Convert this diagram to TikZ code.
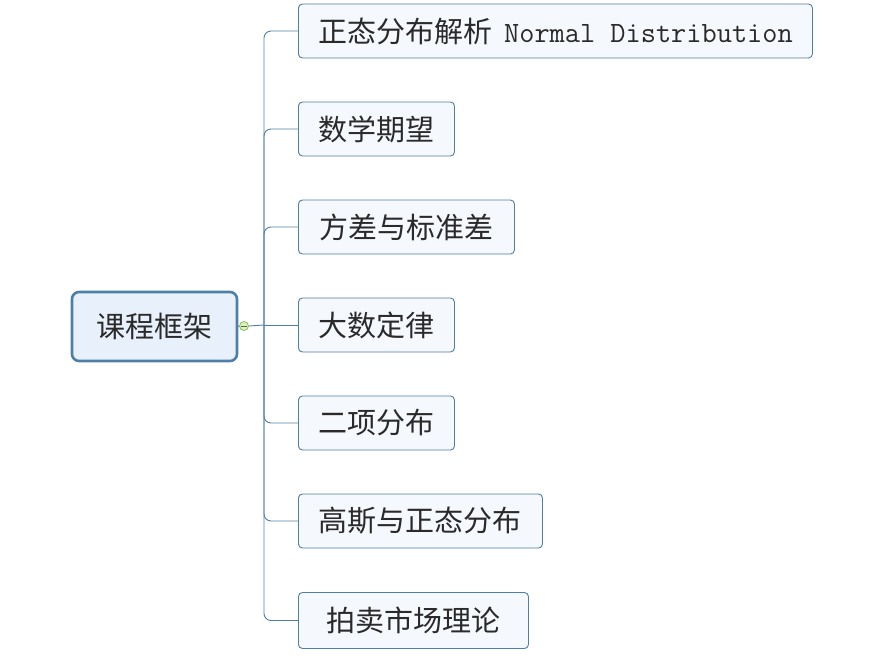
\documentclass[tikz,border=0pt]{standalone}
\usepackage{fontspec}
\newfontfamily\cjk{Noto Sans CJK SC}
\usepackage{tikz}
\usetikzlibrary{positioning}
\definecolor{edgeblue}{HTML}{4E7FA6}
\definecolor{rootfill}{HTML}{E8F1FB}
\definecolor{leaffill}{HTML}{F5F8FC}
\definecolor{foldgreen}{HTML}{8DBB5A}
\definecolor{foldfill}{HTML}{DCEFC0}
\definecolor{inkgrey}{HTML}{2A2A2A}
\begin{document}
\begin{tikzpicture}[x=1pt,y=-1pt,
    rootbox/.style={draw=edgeblue,line width=2.6pt,fill=rootfill,rounded corners=7pt,
      minimum width=165pt,minimum height=69pt,font=\fontsize{29}{31}\selectfont\cjk,text=inkgrey},
    leafbox/.style={draw=edgeblue,line width=0.9pt,fill=leaffill,rounded corners=4pt,
      minimum height=54pt,anchor=west,font=\fontsize{29}{31}\selectfont\cjk,text=inkgrey},
    branch/.style={draw=edgeblue,line width=0.9pt,rounded corners=7pt}]%
    \useasboundingbox (0,0) rectangle (882,655);
    \node[rootbox] (root) at (154.5,326.5) {课程框架}; %%
    \node[draw=foldgreen,fill=foldfill,circle,line width=0.8pt,inner sep=0pt,minimum size=9pt] (fold) at (244,326) {}; %%
    \draw[foldgreen!60!black,line width=0.8pt] (fold.west)++(1.5,0) -- ++(6,0);
    \coordinate (hub) at (264,325);
    %% branches
    \node[leafbox,minimum width=514pt] (c1) at (298,31) {正态分布解析\hspace{12pt}{\ttfamily\fontsize{29.5}{31}\selectfont Normal Distribution}}; %%
    \node[leafbox,minimum width=156pt] (c2) at (298,129) {数学期望}; %%
    \node[leafbox,minimum width=216pt] (c3) at (298,227) {方差与标准差}; %%
    \node[leafbox,minimum width=156pt] (c4) at (298,325) {大数定律}; %%
    \node[leafbox,minimum width=156pt] (c5) at (298,423) {二项分布}; %%
    \node[leafbox,minimum width=244pt] (c6) at (298,521) {高斯与正态分布}; %%
    \node[leafbox,minimum width=230pt,minimum height=56pt] (c7) at (298,620.5) {拍卖市场理论}; %%
    \draw[branch] (root.east) -- (fold.west);
    \draw[branch] (fold.east) -- (hub);
    \foreach \c in {c1,c2,c3,c5,c6,c7}
        \draw[branch] (hub) |- (\c.west);
    \draw[branch] (hub) -- (c4.west);
\end{tikzpicture}
\end{document}
